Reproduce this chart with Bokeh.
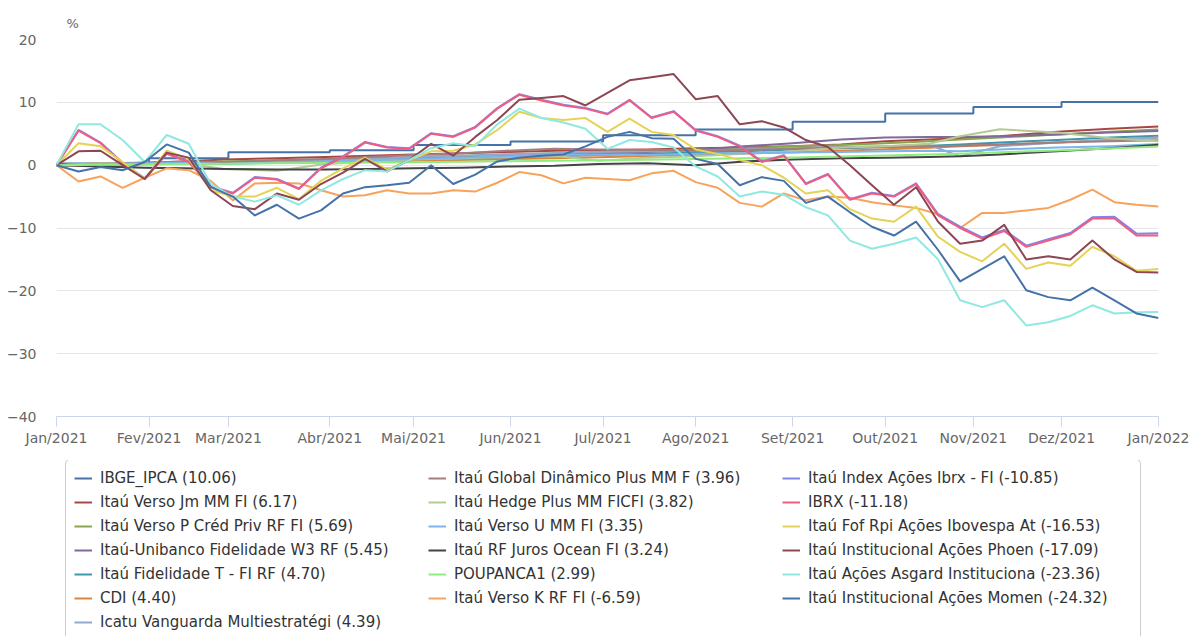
from bokeh.plotting import figure
from bokeh.layouts import column
from bokeh.models import Range1d, FixedTicker, Legend, LegendItem
from bokeh.embed import file_html
from bokeh.resources import INLINE

# ---- axis data ----
month_idx = [0, 21, 39, 62, 81, 103, 124, 145, 167, 188, 208, 228, 250]
month_labels = ["Jan/2021", "Fev/2021", "Mar/2021", "Abr/2021", "Mai/2021", "Jun/2021",
                "Jul/2021", "Ago/2021", "Set/2021", "Out/2021", "Nov/2021", "Dez/2021", "Jan/2022"]
y_ticks = [-40, -30, -20, -10, 0, 10, 20]

# sample grid (trading-day index) for the volatile series
day_idx = [0, 5, 10, 15, 20, 25, 30, 35, 40, 45,
           50, 55, 60, 65, 70, 75, 80, 85, 90, 95,
           100, 105, 110, 115, 120, 125, 130, 135, 140, 145,
           150, 155, 160, 165, 170, 175, 180, 185, 190, 195,
           200, 205, 210, 215, 220, 225, 230, 235, 240, 245,
           250]
# coarser grid for the smooth series
smooth_idx = [0, 10, 20, 29, 38, 50, 61, 71, 81, 92, 102, 113, 123, 134, 145, 156,
              167, 178, 188, 198, 205, 214, 227, 239, 250]

# ---- series values (%) ----
ipca = [0.25, 1.11, 2.05, 2.37, 3.22, 3.77, 4.76, 5.67, 6.90, 8.24, 9.26, 10.06, 10.06]

verso_jm = [0, 0.2, 0.4, 0.6, 0.9, 1.1, 1.3, 1.5, 1.7, 1.9, 2.1, 2.3, 2.4, 2.5, 2.7, 2.8,
            3.0, 3.3, 3.8, 4.1, 4.3, 4.6, 5.3, 5.8, 6.17]
verso_p = [0, 0.1, 0.3, 0.4, 0.6, 0.8, 0.9, 1.1, 1.3, 1.5, 1.7, 1.9, 2.1, 2.3, 2.5, 2.7,
           3.0, 3.2, 3.5, 3.8, 4.1, 4.4, 4.9, 5.3, 5.69]
w3 = [0, 0.1, 0.2, 0.3, 0.4, 0.6, 0.8, 1.0, 1.1, 1.3, 1.5, 1.7, 1.9, 2.1, 2.4, 3.0,
      3.5, 4.1, 4.4, 4.5, 4.5, 4.6, 4.9, 5.2, 5.45]
fid_t = [0, 0.1, 0.2, 0.3, 0.4, 0.5, 0.6, 0.8, 0.9, 1.1, 1.2, 1.4, 1.6, 1.8, 2.0, 2.2,
         2.5, 2.7, 2.9, 3.1, 3.3, 3.6, 4.0, 4.4, 4.70]
cdi = [0, 0.07, 0.15, 0.22, 0.28, 0.38, 0.48, 0.58, 0.69, 0.82, 0.96, 1.11, 1.27, 1.45, 1.64, 1.85,
       2.07, 2.30, 2.52, 2.77, 3.0, 3.2, 3.62, 4.0, 4.40]
icatu = [0, 0.3, 0.4, 0.5, 0.3, 0.5, 0.8, 1.0, 1.3, 1.5, 1.7, 1.9, 2.1, 2.2, 2.3, 2.5,
         2.7, 2.9, 3.0, 3.2, 1.4, 3.0, 3.6, 4.0, 4.39]
global_din = [0, 0.3, 0.4, 0.6, 0.5, 0.8, 1.0, 1.3, 1.6, 1.9, 2.3, 2.6, 2.5, 2.4, 2.3, 2.4,
              2.6, 2.8, 2.9, 3.0, 3.1, 3.3, 3.6, 3.8, 3.96]
hedge = [0, 0.3, 0.2, 0.3, -0.6, -0.9, 0.2, 0.5, 0.9, 1.1, 1.3, 1.5, 0.7, 1.2, 1.4, 1.8,
         2.2, 2.8, 3.0, 3.4, 4.6, 5.7, 5.2, 4.3, 3.82]
verso_u = [0, 0.2, 0.3, 0.4, 0.2, 0.4, 0.6, 0.8, 1.0, 1.2, 1.4, 1.6, 1.7, 1.6, 1.8, 1.9,
           2.0, 2.1, 2.2, 2.3, 2.2, 2.5, 2.8, 3.0, 3.35]
juros_ocean = [0, -0.2, -0.4, -0.5, -0.6, -0.7, -0.7, -0.6, -0.5, -0.4, -0.2, -0.1, 0.2, 0.3, 0.0, 0.6,
               0.9, 1.1, 1.2, 1.3, 1.4, 1.7, 2.2, 2.7, 3.24]
poupanca = [0, 0.06, 0.12, 0.17, 0.23, 0.29, 0.35, 0.41, 0.46, 0.54, 0.62, 0.70, 0.78, 0.88, 0.98, 1.10,
            1.23, 1.38, 1.53, 1.70, 1.80, 2.05, 2.34, 2.65, 2.99]

verso_k = [0, -2.6, -1.8, -3.6, -2.0, -0.5, -0.8, -2.5, -5.6, -2.9,
           -2.8, -2.9, -4.0, -5.0, -4.8, -4.0, -4.5, -4.5, -4.0, -4.2,
           -2.8, -1.1, -1.6, -2.9, -2.0, -2.2, -2.4, -1.3, -0.9, -2.7,
           -3.6, -6.0, -6.6, -4.5, -5.6, -5.0, -5.2, -5.9, -6.4, -6.8,
           -7.8, -10.0, -7.6, -7.6, -7.2, -6.8, -5.5, -3.9, -5.9, -6.3,
           -6.59]
index_ibrx = [0, 5.6, 3.6, 0.4, -2.1, 1.9, 0.6, -3.4, -4.4, -1.9,
              -2.2, -3.7, -0.4, 1.4, 3.7, 2.9, 2.7, 5.1, 4.6, 6.1,
              9.1, 11.3, 10.4, 9.6, 9.1, 8.2, 10.4, 7.6, 8.6, 5.6,
              4.6, 3.1, 0.6, 1.6, -2.9, -1.4, -5.4, -4.4, -4.9, -2.9,
              -7.8, -9.8, -11.5, -10.3, -12.8, -11.8, -10.8, -8.3, -8.2, -10.9,
              -10.85]
ibrx = [0, 5.5, 3.5, 0.3, -2.2, 1.8, 0.5, -3.5, -4.5, -2.0,
        -2.3, -3.8, -0.5, 1.3, 3.6, 2.8, 2.6, 5.0, 4.5, 6.0,
        9.0, 11.2, 10.3, 9.5, 9.0, 8.1, 10.3, 7.5, 8.5, 5.5,
        4.5, 3.0, 0.5, 1.5, -3.0, -1.5, -5.5, -4.5, -5.0, -3.0,
        -8.0, -10.0, -11.7, -10.5, -13.0, -12.0, -11.0, -8.5, -8.5, -11.2,
        -11.18]
fof_rpi = [0, 3.5, 3.0, 0.5, -2.2, 2.3, 1.0, -4.0, -5.0, -5.0,
           -3.6, -5.4, -2.5, -0.5, 1.2, -0.7, 0.8, 2.2, 2.3, 3.3,
           5.6, 8.5, 7.5, 7.2, 7.5, 5.3, 7.4, 5.3, 4.8, 2.5,
           1.8, 0.8, 0.0, -2.0, -4.5, -4.0, -7.0, -8.5, -9.0, -6.6,
           -11.4, -13.8, -15.3, -12.5, -16.5, -15.5, -16.0, -13.0, -14.5, -16.8,
           -16.53]
phoen = [0, 2.2, 2.3, 0.0, -2.2, 2.0, 1.2, -4.0, -6.5, -7.0,
         -4.5, -5.5, -3.0, -1.2, 1.0, -1.0, 0.8, 3.4, 1.5, 4.5,
         7.2, 10.4, 10.7, 11.0, 9.5, 11.5, 13.5, 14.0, 14.5, 10.5,
         11.0, 6.5, 7.0, 6.0, 4.0, 2.9, 0.0, -3.2, -6.3, -3.5,
         -9.0, -12.5, -12.0, -9.5, -15.0, -14.5, -15.0, -12.0, -15.0, -17.0,
         -17.09]
asgard = [0, 6.5, 6.5, 4.0, 0.5, 4.8, 3.4, -3.0, -5.0, -5.8,
          -4.8, -6.3, -4.0, -2.2, -0.8, -1.0, 0.8, 2.7, 3.5, 3.0,
          6.5, 9.0, 7.5, 6.8, 5.8, 2.6, 4.0, 3.7, 2.8, -0.2,
          -1.8, -5.0, -4.2, -4.7, -6.7, -8.0, -12.0, -13.3, -12.5, -11.5,
          -15.0, -21.5, -22.6, -21.5, -25.5, -25.0, -24.0, -22.3, -23.6, -23.4,
          -23.36]
momen = [0, -1.0, -0.3, -0.8, 0.5, 3.3, 2.0, -3.5, -5.0, -8.0,
         -6.3, -8.5, -7.2, -4.5, -3.5, -3.2, -2.8, 0.0, -3.0, -1.5,
         0.6, 1.2, 1.5, 1.7, 3.0, 4.5, 5.3, 4.3, 4.2, 1.0,
         0.2, -3.2, -1.9, -2.5, -6.0, -5.0, -7.5, -9.8, -11.2, -9.0,
         -13.5, -18.5, -16.5, -14.5, -19.9, -21.0, -21.5, -19.5, -21.5, -23.6,
         -24.32]

# (label, x grid, values, colour, kind)
series = [
    ("IBGE_IPCA (10.06)", month_idx, ipca, "#4572A7", "step"),
    ("Itaú Verso Jm MM FI (6.17)", smooth_idx, verso_jm, "#AA4643", "line"),
    ("Itaú Verso P Créd Priv RF FI (5.69)", smooth_idx, verso_p, "#89A54E", "line"),
    ("Itaú-Unibanco Fidelidade W3 RF (5.45)", smooth_idx, w3, "#80699B", "line"),
    ("Itaú Fidelidade T - FI RF (4.70)", smooth_idx, fid_t, "#3D96AE", "line"),
    ("CDI (4.40)", smooth_idx, cdi, "#DB843D", "line"),
    ("Icatu Vanguarda Multiestratégi (4.39)", smooth_idx, icatu, "#92A8CD", "line"),
    ("Itaú Global Dinâmico Plus MM F (3.96)", smooth_idx, global_din, "#A47D7C", "line"),
    ("Itaú Hedge Plus MM FICFI (3.82)", smooth_idx, hedge, "#B5CA92", "line"),
    ("Itaú Verso U MM FI (3.35)", smooth_idx, verso_u, "#7cb5ec", "line"),
    ("Itaú RF Juros Ocean FI (3.24)", smooth_idx, juros_ocean, "#434348", "line"),
    ("POUPANCA1 (2.99)", smooth_idx, poupanca, "#90ed7d", "line"),
    ("Itaú Verso K RF FI (-6.59)", day_idx, verso_k, "#f7a35c", "line"),
    ("Itaú Index Ações Ibrx - FI (-10.85)", day_idx, index_ibrx, "#8085e9", "line"),
    ("IBRX (-11.18)", day_idx, ibrx, "#f15c80", "line"),
    ("Itaú Fof Rpi Ações Ibovespa At (-16.53)", day_idx, fof_rpi, "#e4d354", "line"),
    ("Itaú Institucional Ações Phoen (-17.09)", day_idx, phoen, "#8d4654", "line"),
    ("Itaú Ações Asgard Instituciona (-23.36)", day_idx, asgard, "#91e8e1", "line"),
    ("Itaú Institucional Ações Momen (-24.32)", day_idx, momen, "#4572A7", "line"),
]

FONT = "DejaVu Sans"

# ---------------- chart ----------------
p = figure(width=1192, height=460, output_backend="svg", toolbar_location=None,
           x_range=Range1d(0, 250), y_range=Range1d(-40, 20),
           min_border_left=56, min_border_right=34, min_border_top=39, min_border_bottom=44)
p.outline_line_color = None
p.background_fill_color = "white"
p.border_fill_color = "white"

p.title.text = "%"
p.title.align = "left"
p.title.offset = 10
p.title.standoff = 17
p.title.text_font = FONT
p.title.text_font_size = "13px"
p.title.text_font_style = "normal"
p.title.text_color = "#666666"

p.xgrid.visible = False
p.ygrid.ticker = FixedTicker(ticks=y_ticks)
p.ygrid.grid_line_color = "#e6e6e6"
p.ygrid.grid_line_width = 1

yax = p.yaxis[0]
yax.ticker = FixedTicker(ticks=y_ticks)
yax.axis_line_color = None
yax.major_tick_line_color = None
yax.minor_tick_line_color = None
yax.major_label_standoff = 14
yax.major_label_text_font = FONT
yax.major_label_text_font_size = "14px"
yax.major_label_text_color = "#666666"

xax = p.xaxis[0]
xax.ticker = FixedTicker(ticks=month_idx)
xax.major_label_overrides = {m: lab for m, lab in zip(month_idx, month_labels)}
xax.axis_line_color = "#ccd6eb"
xax.major_tick_line_color = "#ccd6eb"
xax.major_tick_out = 10
xax.major_tick_in = 0
xax.minor_tick_line_color = None
xax.major_label_standoff = 3
xax.major_label_text_font = FONT
xax.major_label_text_font_size = "14px"
xax.major_label_text_color = "#666666"

# ---------------- legend panel ----------------
# same series, drawn outside this panel's visible range, only to key the legend
lg = figure(width=1192, height=176, output_backend="svg", toolbar_location=None,
            x_range=Range1d(0, 250), y_range=Range1d(100, 101),
            x_axis_location=None, y_axis_location=None,
            min_border_left=0, min_border_right=0, min_border_top=0, min_border_bottom=0)
lg.outline_line_color = None
lg.grid.visible = False
lg.background_fill_color = "white"
lg.border_fill_color = "white"

items = []
for label, xs, ys, color, kind in series:
    if kind == "step":
        p.step(xs, ys, mode="after", line_color=color, line_width=2)
    else:
        p.line(xs, ys, line_color=color, line_width=2, line_join="round")
    key = lg.line(xs, ys, line_color=color, line_width=2)
    items.append(LegendItem(label=label, renderers=[key]))

# three columns of 7, 6 and 6 entries, laid out row by row
cols = [items[0:7], items[7:13], items[13:19]]
ordered = []
for row in range(7):
    for col in cols:
        if row < len(col):
            ordered.append(col[row])

legend = Legend(items=ordered, location=(9, -5), orientation="horizontal", ncols=3)
legend.glyph_width = 18
legend.glyph_height = 20
legend.label_height = 20
legend.label_width = 324
legend.label_standoff = 8
legend.spacing = 4
legend.padding = 8
legend.margin = 0
legend.label_text_font = FONT
legend.label_text_font_size = "15px"
legend.label_text_color = "#333333"
legend.border_line_color = "#999999"
legend.border_line_width = 1
legend.background_fill_color = "white"
legend.background_fill_alpha = 1.0
try:
    legend.border_radius = 5
except Exception:
    pass
lg.add_layout(legend)

page = column(p, lg, spacing=0)
open("out.html", "w").write(file_html(page, INLINE))
